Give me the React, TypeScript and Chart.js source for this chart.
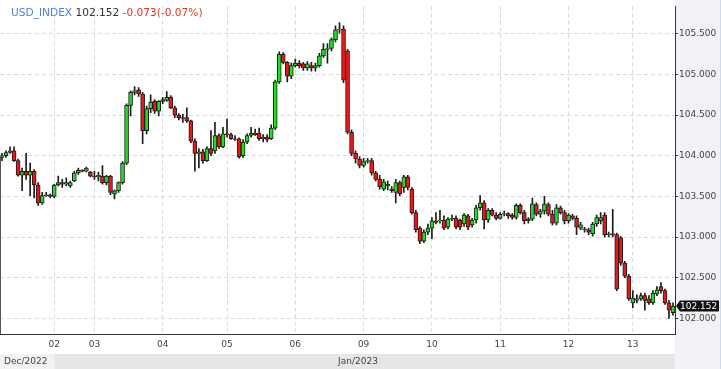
import React, { useEffect, useRef } from "react";
import { Chart, registerables } from "chart.js";

Chart.register(...registerables);

const symbolName = "USD_INDEX";
const lastPriceText = "102.152";
const changeText = "-0.073(-0.07%)";

const open = [
  103.98, 104.00, 104.04, 104.06, 103.94, 103.76, 103.81, 103.76, 103.81, 103.64,
  103.42, 103.51, 103.52, 103.50, 103.64, 103.67, 103.65, 103.63, 103.69, 103.79,
  103.82, 103.81, 103.80, 103.75, 103.74, 103.75, 103.67, 103.75, 103.53, 103.57,
  103.67, 103.91, 104.62, 104.78, 104.81, 104.76, 104.31, 104.58, 104.67, 104.55,
  104.67, 104.68, 104.72, 104.59, 104.50, 104.47, 104.47, 104.43, 104.18, 104.03,
  104.05, 103.94, 104.09, 104.06, 104.25, 104.11, 104.27, 104.26, 104.21, 104.21,
  104.00, 104.17, 104.25, 104.28, 104.28, 104.21, 104.23, 104.21, 104.34, 104.91,
  105.25, 105.15, 104.98, 105.11, 105.14, 105.13, 105.08, 105.11, 105.08, 105.11,
  105.23, 105.31, 105.32, 105.43, 105.55, 105.56, 105.29, 104.29, 104.03, 103.96,
  103.88, 103.93, 103.94, 103.79, 103.71, 103.59, 103.63, 103.59, 103.55, 103.67,
  103.61, 103.74, 103.59, 103.30, 103.11, 102.95, 103.06, 103.11, 103.20, 103.20,
  103.21, 103.12, 103.22, 103.23, 103.21, 103.16, 103.26, 103.15, 103.21, 103.36,
  103.42, 103.21, 103.33, 103.27, 103.23, 103.28, 103.29, 103.27, 103.24, 103.39,
  103.30, 103.20, 103.22, 103.40, 103.28, 103.32, 103.40, 103.28, 103.17, 103.36,
  103.30, 103.20, 103.26, 103.23, 103.11, 103.10, 103.09, 103.04, 103.16, 103.20,
  103.27, 103.03, 103.04, 103.03, 102.99, 102.68, 102.52, 102.19, 102.22, 102.24,
  102.28, 102.24, 102.19, 102.30, 102.39, 102.34, 102.19, 102.07,
];

const high = [
  104.03, 104.06, 104.11, 104.11, 103.96, 103.85, 104.03, 103.91, 103.83, 103.67,
  103.55, 103.55, 103.53, 103.65, 103.75, 103.71, 103.73, 103.69, 103.81, 103.85,
  103.83, 103.86, 103.81, 103.81, 103.80, 103.88, 103.76, 103.76, 103.58, 103.68,
  103.93, 104.64, 104.80, 104.85, 104.84, 104.78, 104.61, 104.75, 104.69, 104.68,
  104.72, 104.79, 104.74, 104.61, 104.52, 104.51, 104.59, 104.44, 104.21, 104.09,
  104.08, 104.11, 104.31, 104.41, 104.27, 104.35, 104.45, 104.28, 104.25, 104.22,
  104.20, 104.27, 104.35, 104.33, 104.34, 104.26, 104.26, 104.38, 104.93, 105.28,
  105.27, 105.16, 105.14, 105.19, 105.17, 105.15, 105.16, 105.15, 105.14, 105.26,
  105.38, 105.38, 105.45, 105.60, 105.64, 105.60, 105.31, 104.32, 104.06, 103.99,
  103.97, 103.97, 103.97, 103.81, 103.76, 103.71, 103.69, 103.62, 103.71, 103.69,
  103.76, 103.76, 103.61, 103.33, 103.13, 103.09, 103.16, 103.24, 103.30, 103.33,
  103.26, 103.24, 103.27, 103.26, 103.22, 103.29, 103.28, 103.23, 103.39, 103.51,
  103.45, 103.35, 103.35, 103.30, 103.30, 103.32, 103.30, 103.29, 103.41, 103.41,
  103.33, 103.24, 103.48, 103.42, 103.34, 103.50, 103.42, 103.33, 103.40, 103.38,
  103.33, 103.29, 103.28, 103.26, 103.18, 103.12, 103.11, 103.18, 103.27, 103.30,
  103.30, 103.06, 103.34, 103.05, 103.01, 102.70, 102.54, 102.34, 102.29, 102.31,
  102.31, 102.28, 102.34, 102.39, 102.44, 102.36, 102.22, 102.19,
];

const low = [
  103.94, 103.98, 104.03, 103.93, 103.75, 103.57, 103.71, 103.51, 103.48, 103.39,
  103.40, 103.50, 103.48, 103.48, 103.63, 103.61, 103.63, 103.61, 103.68, 103.77,
  103.80, 103.80, 103.74, 103.71, 103.69, 103.65, 103.64, 103.52, 103.47, 103.55,
  103.65, 103.89, 104.49, 104.75, 104.73, 104.15, 104.27, 104.53, 104.52, 104.49,
  104.64, 104.67, 104.58, 104.47, 104.44, 104.41, 104.41, 104.16, 103.81, 103.85,
  103.91, 103.93, 104.00, 104.03, 104.09, 104.10, 104.23, 104.20, 104.19, 103.97,
  103.98, 104.15, 104.23, 104.25, 104.19, 104.17, 104.17, 104.20, 104.32, 104.89,
  105.13, 104.91, 104.95, 105.09, 105.08, 105.05, 105.05, 105.04, 105.04, 105.09,
  105.21, 105.14, 105.29, 105.40, 105.51, 104.90, 104.27, 104.00, 103.91, 103.85,
  103.86, 103.91, 103.76, 103.69, 103.59, 103.57, 103.58, 103.55, 103.42, 103.51,
  103.55, 103.58, 103.28, 103.06, 102.92, 102.93, 103.03, 102.98, 103.16, 103.17,
  103.09, 103.10, 103.20, 103.10, 103.09, 103.13, 103.09, 103.12, 103.17, 103.33,
  103.10, 103.18, 103.26, 103.21, 103.22, 103.26, 103.23, 103.22, 103.22, 103.28,
  103.16, 103.17, 103.20, 103.26, 103.24, 103.28, 103.26, 103.15, 103.15, 103.28,
  103.16, 103.17, 103.21, 103.03, 103.09, 103.06, 103.03, 103.01, 103.13, 103.16,
  103.00, 103.00, 103.00, 102.34, 102.65, 102.50, 102.22, 102.13, 102.19, 102.22,
  102.10, 102.17, 102.17, 102.28, 102.31, 102.17, 102.00, 102.04,
];

const close = [
  104.00, 104.04, 104.06, 103.94, 103.76, 103.81, 103.76, 103.81, 103.64, 103.42,
  103.51, 103.52, 103.50, 103.64, 103.67, 103.65, 103.67, 103.67, 103.79, 103.82,
  103.81, 103.85, 103.75, 103.74, 103.76, 103.67, 103.75, 103.55, 103.57, 103.67,
  103.91, 104.62, 104.78, 104.80, 104.76, 104.31, 104.58, 104.66, 104.55, 104.67,
  104.69, 104.72, 104.59, 104.50, 104.47, 104.46, 104.43, 104.18, 104.03, 104.05,
  103.94, 104.09, 104.03, 104.25, 104.11, 104.27, 104.26, 104.21, 104.20, 103.99,
  104.17, 104.25, 104.28, 104.26, 104.21, 104.23, 104.20, 104.34, 104.91, 105.25,
  105.15, 104.98, 105.11, 105.14, 105.11, 105.08, 105.13, 105.08, 105.11, 105.23,
  105.31, 105.32, 105.43, 105.55, 105.56, 104.93, 104.29, 104.03, 103.96, 103.88,
  103.93, 103.94, 103.79, 103.71, 103.62, 103.68, 103.65, 103.57, 103.67, 103.53,
  103.74, 103.61, 103.30, 103.09, 102.95, 103.06, 103.11, 103.20, 103.18, 103.21,
  103.11, 103.22, 103.23, 103.12, 103.12, 103.27, 103.12, 103.21, 103.36, 103.42,
  103.21, 103.33, 103.27, 103.23, 103.28, 103.29, 103.26, 103.24, 103.39, 103.30,
  103.20, 103.22, 103.41, 103.28, 103.32, 103.41, 103.28, 103.17, 103.36, 103.30,
  103.20, 103.27, 103.23, 103.12, 103.15, 103.09, 103.06, 103.16, 103.24, 103.24,
  103.03, 103.04, 103.03, 102.36, 102.68, 102.52, 102.24, 102.25, 102.24, 102.28,
  102.22, 102.19, 102.31, 102.35, 102.34, 102.19, 102.10, 102.152,
];

const dayTickIndex = [13, 23, 40, 56, 73, 90, 107, 124, 141, 157];
const dayTickLabels = ["02", "03", "04", "05", "06", "09", "10", "11", "12", "13"];
const monthLabels = ["Dec/2022", "Jan/2023"];
const monthStartIndex = [0, 13];
const priceTicks = [102.0, 102.5, 103.0, 103.5, 104.0, 104.5, 105.0, 105.5];
const yMin = 101.807;
const yMax = 105.838;

const GREEN = "#1be01b";
const RED = "#f01414";
const DARK = "#1c1c1c";
const FONT = "DejaVu Sans";

export default function App() {
  const ref = useRef<HTMLCanvasElement | null>(null);

  useEffect(() => {
    document.body.style.margin = "0";
    const canvas = ref.current;
    if (!canvas) return;
    const labels = close.map((_, i) => String(i));

    const decor = {
      id: "decor",
      beforeDraw(chart: any) {
        const { ctx, chartArea, width, height } = chart;
        const xs = chart.scales.x;
        ctx.save();
        ctx.fillStyle = "#ffffff";
        ctx.fillRect(0, 0, width, height);
        ctx.fillStyle = "#f0f2f6";
        ctx.fillRect(chartArea.right, 0, width - chartArea.right, height);
        ctx.fillStyle = "#cddcf0";
        ctx.fillRect(width - 1, 0, 1, height);
        const bandTop = 354;
        const janStart = xs.getPixelForValue(monthStartIndex[1]);
        ctx.fillStyle = "#f2f2f2";
        ctx.fillRect(0, bandTop, janStart, height - bandTop);
        ctx.fillStyle = "#e6e6e6";
        ctx.fillRect(janStart, bandTop, chartArea.right - janStart, height - bandTop);
        ctx.restore();
      },
      afterDraw(chart: any) {
        const { ctx, chartArea, width } = chart;
        const ys = chart.scales.y;
        ctx.save();
        ctx.strokeStyle = "#555";
        ctx.lineWidth = 1;
        ctx.beginPath();
        ctx.moveTo(0.5, ys.getPixelForValue(close[0]));
        ctx.lineTo(0.5, chartArea.bottom);
        ctx.stroke();
        // header
        ctx.font = `10.6px "${FONT}"`;
        ctx.textBaseline = "alphabetic";
        ctx.textAlign = "left";
        let x = 11;
        const by = 15.5;
        ctx.fillStyle = "#4a7ee6";
        ctx.fillText(symbolName, x, by);
        x += ctx.measureText(symbolName + " ").width;
        ctx.fillStyle = "#333333";
        ctx.fillText(lastPriceText, x, by);
        x += ctx.measureText(lastPriceText + " ").width;
        ctx.fillStyle = "#e2361c";
        ctx.fillText(changeText, x, by);
        // month labels
        ctx.font = `9px "${FONT}"`;
        ctx.fillStyle = "#444";
        ctx.textBaseline = "middle";
        ctx.textAlign = "left";
        ctx.fillText(monthLabels[0], 4, 362);
        ctx.textAlign = "center";
        ctx.fillText(monthLabels[1], 358, 362);
        // last price tag
        const py = ys.getPixelForValue(close[close.length - 1]);
        const left = chartArea.right + 1;
        ctx.fillStyle = "#111";
        ctx.beginPath();
        ctx.moveTo(left, py);
        ctx.lineTo(left + 4, py - 5.5);
        ctx.lineTo(width - 2, py - 5.5);
        ctx.lineTo(width - 2, py + 5.5);
        ctx.lineTo(left + 4, py + 5.5);
        ctx.closePath();
        ctx.fill();
        ctx.font = `9px "${FONT}"`;
        ctx.fillStyle = "#ffffff";
        ctx.textAlign = "left";
        ctx.textBaseline = "middle";
        ctx.fillText(lastPriceText, left + 4, py + 0.5);
        ctx.restore();
      },
    };

    const chart = new Chart(canvas, {
      type: "bar",
      data: {
        labels,
        datasets: [
          {
            label: "body",
            data: open.map((o, i) => [o, close[i]]) as any,
            backgroundColor: open.map((o, i) => (close[i] >= o ? GREEN : RED)),
            borderColor: DARK,
            borderWidth: 1,
            borderSkipped: false,
            barThickness: 4,
            grouped: false,
            order: 0,
          } as any,
          {
            label: "wick",
            data: low.map((l, i) => [l, high[i]]) as any,
            backgroundColor: DARK,
            borderWidth: 0,
            barThickness: 1,
            grouped: false,
            order: 1,
          } as any,
        ],
      },
      options: {
        animation: false,
        responsive: false,
        maintainAspectRatio: false,
        layout: { padding: 0 },
        plugins: { legend: { display: false }, tooltip: { enabled: false } },
        scales: {
          x: {
            type: "category",
            offset: true,
            grid: { offset: false, color: "#dadada", drawTicks: false, lineWidth: 1 },
            border: { display: true, color: "#333", width: 1, dash: [4, 3] },
            ticks: {
              autoSkip: false,
              maxRotation: 0,
              padding: 5,
              color: "#444",
              font: { family: FONT, size: 9 },
              callback: (_v: any, i: number) => dayTickLabels[i],
            },
            afterBuildTicks: (axis: any) => {
              axis.ticks = dayTickIndex.map((v) => ({ value: v }));
            },
            afterFit: (axis: any) => {
              axis.height = 35;
            },
          } as any,
          y: {
            position: "right",
            min: yMin,
            max: yMax,
            grid: {
              color: "#dadada",
              drawTicks: true,
              tickLength: 3,
              tickColor: "#333",
              tickBorderDash: [],
            },
            border: { display: true, color: "#333", width: 1, dash: [4, 3] },
            ticks: {
              padding: 1,
              color: "#444",
              font: { family: FONT, size: 9 },
              callback: (v: any) => Number(v).toFixed(3),
            },
            afterBuildTicks: (axis: any) => {
              axis.ticks = priceTicks.map((v) => ({ value: v }));
            },
            afterFit: (axis: any) => {
              axis.width = 46;
            },
          } as any,
        },
      },
      plugins: [decor],
    });
    return () => chart.destroy();
  }, []);

  return (
    <canvas ref={ref} width={721} height={369} style={{ display: "block", width: 721, height: 369 }} />
  );
}
